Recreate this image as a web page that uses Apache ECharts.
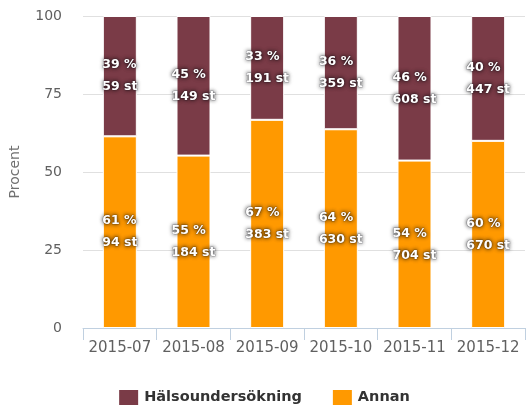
<!DOCTYPE html>
<html>
<head>
<meta charset="utf-8">
<script src="https://cdn.jsdelivr.net/npm/echarts@6/dist/echarts.min.js"></script>
<style>html,body{margin:0;padding:0;background:#fff}#c{width:527px;height:409px}</style>
</head>
<body>
<div id="c"></div>
<script>
const categories = ['2015-07', '2015-08', '2015-09', '2015-10', '2015-11', '2015-12'];
const halsoCounts = [59, 149, 191, 359, 608, 447];
const annanCounts = [94, 184, 383, 630, 704, 670];
const yTicks = [0, 25, 50, 75, 100];

const totals = categories.map((c, i) => halsoCounts[i] + annanCounts[i]);
const halsoPct = halsoCounts.map((v, i) => v / totals[i] * 100);
const annanPct = annanCounts.map((v, i) => v / totals[i] * 100);

const FONT = 'DejaVu Sans';
function labelFor(counts, pct) {
  return {
    show: true,
    position: 'inside',
    formatter: p => '{a|' + Math.round(pct[p.dataIndex]) + ' %}\n{a|' + counts[p.dataIndex] + ' st}',
    rich: {
      a: {
        align: 'left',
        color: '#fff',
        fontFamily: FONT,
        fontWeight: 'bold',
        fontSize: 12.5,
        lineHeight: 22,
        textBorderColor: 'rgba(40,40,60,0.3)',
        textBorderWidth: 1,
        textShadowColor: 'rgba(0,0,0,0.85)',
        textShadowBlur: 4
      }
    }
  };
}

const chart = echarts.init(document.getElementById('c'), null, {renderer: 'canvas'});
chart.setOption({
  animation: false,
  grid: {left: 83, right: 2, top: 16, bottom: 81, containLabel: false},
  legend: {
    data: ['Hälsoundersökning', 'Annan'],
    left: 'center',
    top: 383,
    itemWidth: 21,
    itemHeight: 17,
    itemGap: 29,
    icon: 'rect',
    textStyle: {fontFamily: FONT, fontSize: 14.5, fontWeight: 'bold', color: '#333'}
  },
  xAxis: {
    type: 'category',
    data: categories,
    axisLine: {lineStyle: {color: '#c0d0e0', width: 1}},
    axisTick: {show: true, length: 12, interval: 0, lineStyle: {color: '#c0d0e0'}},
    axisLabel: {interval: 0, fontFamily: FONT, fontSize: 15, color: '#606060', margin: 13}
  },
  yAxis: {
    type: 'value',
    min: yTicks[0],
    max: yTicks[yTicks.length - 1],
    interval: 25,
    name: 'Procent',
    nameLocation: 'middle',
    nameRotate: 90,
    nameGap: 61,
    nameTextStyle: {fontFamily: FONT, fontSize: 14, color: '#707070'},
    axisLine: {show: false},
    axisTick: {show: false},
    axisLabel: {fontFamily: FONT, fontSize: 14, color: '#606060', margin: 21},
    splitLine: {lineStyle: {color: '#e0e0e0'}}
  },
  series: [
    {
      name: 'Annan',
      type: 'bar',
      stack: 'total',
      barWidth: 34,
      data: annanPct,
      itemStyle: {color: '#ff9900', borderColor: '#fff', borderWidth: 1},
      label: labelFor(annanCounts, annanPct)
    },
    {
      name: 'Hälsoundersökning',
      type: 'bar',
      stack: 'total',
      barWidth: 34,
      data: halsoPct,
      itemStyle: {color: '#7a3b47', borderColor: '#fff', borderWidth: 1},
      label: labelFor(halsoCounts, halsoPct)
    }
  ]
});
</script>
</body>
</html>
